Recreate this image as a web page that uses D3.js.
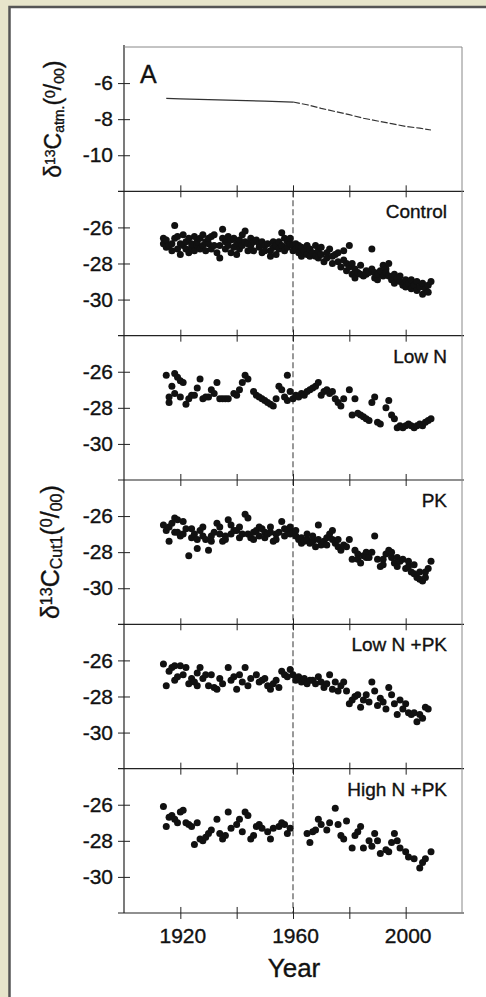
<!DOCTYPE html>
<html>
<head>
<meta charset="utf-8">
<script src="https://cdn.jsdelivr.net/npm/d3@7"></script>
<style>
  body { margin: 0; background: #e7e5cb; }
  svg { display: block; }
  text { font-family: "Liberation Sans", Arial, Helvetica, sans-serif; fill: #111; stroke: #111; stroke-width: 0.35px; }
</style>
</head>
<body>
<div id="vis"></div>
<script>
// atmospheric d13C (top panel)
var atmYears  = [1915, 1920, 1930, 1940, 1950, 1960, 1965, 1970, 1975, 1980, 1985, 1990, 1995, 2000, 2005, 2009];
var atmValues = [-6.85, -6.88, -6.92, -6.96, -7.0, -7.05, -7.2, -7.4, -7.58, -7.75, -7.95, -8.1, -8.25, -8.4, -8.5, -8.6];

var panelNames = ["Control", "Low N", "PK", "Low N +PK", "High N +PK"];
var xTicks = [1920, 1940, 1960, 1980, 2000];
var xLabels = [1920, 1960, 2000];
var atmTicks = [-6, -8, -10];
var cutTicks = [-26, -28, -30];

// [year, d13C] per treatment
var control = [[1914,-26.6],[1914,-26.9],[1915,-27.1],[1915,-26.7],[1916,-27.0],[1917,-26.9],[1917,-27.3],
  [1918,-25.9],[1918,-26.6],[1919,-27.2],[1919,-26.5],[1920,-27.5],[1920,-26.9],[1921,-27.0],[1921,-26.4],
  [1922,-26.8],[1922,-27.2],[1923,-26.6],[1923,-27.4],[1924,-27.1],[1924,-26.9],[1925,-26.5],[1925,-27.3],
  [1926,-27.0],[1926,-26.8],[1927,-26.6],[1927,-27.2],[1928,-27.0],[1928,-26.4],[1929,-27.3],[1929,-26.8],
  [1930,-26.9],[1930,-26.6],[1931,-27.2],[1931,-26.5],[1932,-26.4],[1932,-27.0],[1933,-27.4],[1934,-27.7],
  [1934,-27.0],[1935,-26.6],[1935,-26.1],[1936,-27.2],[1936,-26.8],[1937,-26.5],[1937,-27.0],[1938,-27.4],
  [1938,-26.7],[1939,-27.1],[1939,-26.6],[1940,-26.9],[1940,-27.5],[1941,-26.7],[1941,-27.2],[1942,-26.4],
  [1942,-27.0],[1943,-26.2],[1943,-26.8],[1944,-27.3],[1944,-26.9],[1945,-27.0],[1945,-26.6],[1946,-27.3],
  [1946,-26.8],[1947,-26.7],[1948,-27.1],[1948,-26.9],[1949,-27.4],[1949,-26.8],[1950,-27.0],[1950,-27.3],
  [1951,-26.9],[1952,-27.3],[1952,-27.6],[1953,-27.1],[1953,-26.8],[1954,-27.0],[1954,-27.5],[1955,-26.8],
  [1955,-27.2],[1956,-26.3],[1956,-27.0],[1957,-26.6],[1957,-27.3],[1958,-26.8],[1958,-27.1],[1959,-26.9],
  [1959,-26.6],[1960,-27.0],[1960,-27.3],[1961,-26.9],[1961,-27.2],[1962,-27.4],[1962,-27.0],[1963,-27.1],
  [1963,-27.6],[1964,-27.3],[1965,-27.5],[1965,-27.0],[1966,-27.2],[1966,-27.6],[1967,-27.4],[1968,-27.0],
  [1968,-27.6],[1969,-27.3],[1969,-27.7],[1970,-27.5],[1970,-27.1],[1971,-27.9],[1972,-27.4],[1972,-27.7],
  [1973,-27.2],[1974,-27.6],[1974,-28.0],[1975,-27.5],[1976,-27.9],[1976,-27.4],[1977,-28.2],[1978,-27.3],
  [1978,-27.8],[1979,-28.0],[1979,-28.4],[1980,-27.0],[1980,-28.2],[1981,-28.6],[1981,-28.0],[1982,-28.8],
  [1982,-28.3],[1983,-28.5],[1984,-28.1],[1984,-28.6],[1985,-28.7],[1986,-28.4],[1986,-28.6],[1987,-28.5],
  [1988,-27.2],[1988,-28.3],[1989,-28.8],[1989,-28.5],[1990,-28.9],[1990,-28.6],[1991,-28.4],[1992,-28.1],
  [1992,-28.7],[1993,-28.3],[1993,-28.5],[1994,-28.7],[1994,-28.0],[1995,-28.9],[1996,-28.6],[1996,-29.1],
  [1997,-28.8],[1998,-29.0],[1998,-28.7],[1999,-29.2],[2000,-28.9],[2000,-29.3],[2001,-29.1],[2002,-29.4],
  [2002,-28.9],[2003,-29.2],[2004,-29.5],[2004,-29.0],[2005,-29.3],[2006,-29.7],[2006,-29.1],[2007,-29.4],
  [2008,-29.2],[2008,-29.6],[2009,-29.0]];

var lowN = [[1915,-26.2],[1916,-27.7],[1916,-27.4],[1917,-26.8],[1918,-26.1],[1918,-27.2],[1919,-26.3],
  [1920,-26.5],[1920,-27.4],[1921,-26.6],[1922,-27.8],[1923,-27.5],[1924,-27.3],[1925,-27.3],[1926,-26.9],
  [1927,-26.4],[1928,-27.5],[1929,-27.4],[1930,-27.4],[1931,-27.0],[1932,-27.2],[1933,-26.6],[1934,-27.5],
  [1935,-27.5],[1936,-27.5],[1937,-27.5],[1939,-27.2],[1940,-27.3],[1941,-27.0],[1942,-26.6],[1943,-26.2],
  [1944,-26.4],[1946,-27.1],[1947,-27.3],[1948,-27.4],[1949,-27.5],[1950,-27.6],[1951,-27.7],[1952,-27.8],
  [1953,-27.9],[1954,-27.5],[1955,-26.8],[1956,-27.0],[1957,-27.4],[1958,-26.2],[1958,-27.6],[1959,-27.1],
  [1960,-27.5],[1961,-27.3],[1962,-27.4],[1963,-27.2],[1964,-27.3],[1965,-27.1],[1966,-27.0],[1967,-26.9],
  [1968,-26.8],[1969,-26.6],[1970,-27.3],[1971,-27.1],[1972,-27.0],[1973,-27.2],[1974,-27.1],[1975,-27.5],
  [1976,-27.7],[1977,-27.9],[1978,-27.5],[1980,-27.0],[1981,-28.4],[1982,-27.5],[1983,-28.3],[1984,-28.4],
  [1985,-28.5],[1986,-28.6],[1987,-28.7],[1988,-27.7],[1989,-27.4],[1990,-28.8],[1991,-28.9],[1993,-28.0],
  [1994,-27.6],[1995,-28.4],[1996,-28.6],[1997,-29.1],[1998,-29.0],[1999,-29.1],[2000,-29.0],[2001,-28.9],
  [2002,-29.0],[2003,-29.1],[2004,-29.0],[2005,-28.9],[2006,-29.0],[2007,-28.8],[2008,-28.7],[2009,-28.6]];

var pk = [[1914,-26.5],[1915,-26.8],[1916,-27.4],[1916,-26.6],[1917,-26.4],[1918,-26.1],[1918,-26.9],
  [1919,-26.2],[1919,-26.9],[1920,-27.1],[1921,-26.3],[1921,-27.0],[1922,-26.7],[1923,-28.2],[1924,-27.2],
  [1924,-26.7],[1925,-27.0],[1926,-27.8],[1926,-27.3],[1927,-26.8],[1928,-27.1],[1928,-26.6],[1929,-27.3],
  [1930,-27.9],[1931,-27.1],[1931,-27.4],[1932,-26.9],[1933,-26.4],[1934,-27.0],[1934,-26.6],[1935,-27.4],
  [1936,-27.1],[1936,-27.3],[1937,-26.2],[1938,-27.0],[1938,-26.5],[1939,-26.8],[1940,-26.8],[1941,-27.2],
  [1941,-26.6],[1942,-27.0],[1943,-25.9],[1944,-26.1],[1944,-27.0],[1945,-27.2],[1946,-26.9],[1946,-27.3],
  [1947,-26.8],[1948,-27.1],[1948,-26.6],[1949,-26.7],[1950,-26.9],[1950,-27.2],[1951,-27.0],[1952,-26.9],
  [1952,-26.6],[1953,-27.4],[1954,-27.0],[1954,-27.3],[1955,-26.9],[1956,-26.3],[1957,-27.1],[1957,-26.7],
  [1958,-26.8],[1959,-27.0],[1959,-26.6],[1960,-26.9],[1961,-27.1],[1961,-26.8],[1962,-27.3],[1963,-27.2],
  [1963,-27.5],[1964,-27.4],[1965,-27.3],[1965,-27.0],[1966,-27.5],[1967,-27.4],[1967,-27.1],[1968,-27.7],
  [1969,-26.5],[1969,-27.3],[1970,-27.6],[1971,-27.4],[1972,-27.2],[1972,-27.6],[1973,-27.0],[1974,-27.3],
  [1974,-26.8],[1975,-27.5],[1976,-27.7],[1976,-27.3],[1977,-27.9],[1978,-27.6],[1979,-27.7],[1980,-27.3],
  [1981,-28.4],[1982,-27.9],[1983,-28.1],[1983,-28.4],[1984,-28.6],[1985,-28.2],[1986,-28.0],[1986,-28.3],
  [1987,-28.3],[1988,-28.0],[1989,-27.1],[1990,-28.4],[1991,-28.8],[1992,-28.4],[1992,-28.7],[1993,-28.1],
  [1994,-27.9],[1995,-28.3],[1995,-28.0],[1996,-28.6],[1997,-28.8],[1997,-28.3],[1998,-28.5],[1999,-28.4],
  [2000,-28.9],[2001,-28.8],[2001,-28.5],[2002,-29.1],[2003,-29.2],[2003,-28.7],[2004,-29.4],[2005,-29.5],
  [2005,-29.1],[2006,-29.6],[2007,-29.1],[2007,-29.4],[2008,-28.9],[2009,-28.5]];

var lowNPK = [[1914,-26.2],[1915,-27.4],[1916,-26.6],[1917,-26.4],[1918,-26.3],[1918,-27.1],[1919,-26.9],
  [1920,-26.3],[1921,-26.8],[1922,-26.4],[1923,-27.3],[1924,-27.0],[1925,-27.2],[1926,-27.4],[1926,-26.7],
  [1927,-26.4],[1928,-27.0],[1929,-26.8],[1930,-27.4],[1931,-26.8],[1932,-27.5],[1933,-27.6],[1934,-27.0],
  [1935,-27.3],[1937,-26.4],[1938,-27.1],[1939,-26.9],[1940,-27.6],[1941,-26.8],[1942,-27.2],[1943,-26.4],
  [1944,-27.4],[1945,-27.0],[1947,-26.8],[1948,-27.2],[1949,-27.1],[1950,-27.0],[1951,-27.4],[1952,-27.6],
  [1953,-27.3],[1954,-27.1],[1955,-27.5],[1956,-26.6],[1957,-26.8],[1958,-26.9],[1959,-26.5],[1960,-26.8],
  [1961,-27.1],[1962,-26.9],[1963,-27.2],[1964,-27.0],[1965,-27.3],[1966,-27.1],[1967,-27.1],[1968,-27.3],
  [1969,-26.9],[1970,-27.2],[1971,-27.5],[1972,-27.3],[1973,-26.8],[1974,-27.6],[1975,-27.2],[1976,-27.7],
  [1977,-27.4],[1978,-27.2],[1979,-27.7],[1980,-28.4],[1981,-28.2],[1982,-28.0],[1983,-27.9],[1984,-28.6],
  [1985,-28.2],[1986,-27.9],[1987,-28.3],[1988,-27.2],[1989,-27.7],[1990,-28.5],[1991,-28.1],[1992,-28.3],
  [1993,-28.7],[1994,-27.5],[1995,-27.9],[1996,-28.4],[1997,-29.0],[1998,-28.2],[1999,-28.7],[2000,-28.4],
  [2001,-28.9],[2002,-29.0],[2003,-28.9],[2004,-29.4],[2005,-29.0],[2006,-29.2],[2007,-28.6],[2008,-28.7]];

var highNPK = [[1914,-26.1],[1915,-27.2],[1916,-26.7],[1917,-26.6],[1918,-26.8],[1919,-27.0],[1920,-26.4],
  [1921,-26.3],[1922,-27.0],[1923,-27.1],[1924,-27.2],[1925,-28.2],[1926,-27.0],[1927,-27.9],[1928,-28.0],
  [1929,-27.8],[1930,-27.6],[1931,-27.4],[1933,-26.8],[1934,-27.6],[1935,-27.9],[1936,-27.7],[1937,-26.4],
  [1938,-27.3],[1940,-27.1],[1941,-26.8],[1942,-27.5],[1943,-26.4],[1944,-26.6],[1945,-27.9],[1946,-27.7],
  [1947,-27.2],[1948,-27.1],[1949,-27.3],[1951,-27.5],[1952,-27.9],[1953,-27.3],[1955,-27.2],[1956,-27.0],
  [1957,-27.1],[1958,-27.6],[1959,-27.3],[1965,-27.6],[1966,-28.1],[1967,-27.5],[1968,-27.4],[1969,-26.8],
  [1970,-27.1],[1972,-27.4],[1973,-27.0],[1975,-26.2],[1976,-27.1],[1977,-27.7],[1978,-27.9],[1979,-26.9],
  [1981,-28.4],[1982,-27.7],[1983,-27.5],[1984,-27.2],[1985,-28.4],[1987,-28.0],[1988,-28.3],[1989,-27.6],
  [1990,-28.0],[1991,-28.7],[1993,-28.5],[1994,-28.6],[1995,-28.1],[1996,-27.6],[1997,-28.0],[1998,-28.4],
  [2000,-28.6],[2001,-28.9],[2003,-29.0],[2005,-29.5],[2006,-29.2],[2007,-29.0],[2009,-28.6]];

var series = [control, lowN, pk, lowNPK, highNPK];

var width = 486, height = 997;
var left = 124, right = 462, top0 = 47, panelH = 144.33;

var svg = d3.select('#vis').append('svg')
    .attr('width', width)
    .attr('height', height);

// frame
svg.append('rect')
    .attr('x', 9.5).attr('y', 7)
    .attr('width', 500).attr('height', 1010)
    .attr('fill', '#fff')
    .attr('stroke', '#555')
    .attr('stroke-width', 2.5);

var x = d3.scaleLinear().domain([1900, 2020]).range([left, right]);

function drawYAxis(g, scale, ticks) {
  var ax = d3.axisLeft(scale).tickValues(ticks).tickSize(6).tickPadding(5).tickFormat(d3.format('d'));
  g.call(ax);
  g.select('.domain').remove();
  g.selectAll('.tick line').attr('x1', 6).attr('stroke', '#222');
  g.selectAll('.tick text')
    .style('font-size', '21px')
    .style('font-family', '"Liberation Sans", Arial, sans-serif')
    .attr('fill', '#111')
    .text(function(d) { return d < 0 ? '-' + Math.abs(d) : d; });
}

function drawXAxis(g, yPos, labels) {
  var ax = d3.axisBottom(x).tickValues(xTicks).tickSize(6).tickFormat('');
  g.attr('transform', 'translate(0,' + yPos + ')').call(ax);
  g.select('.domain').remove();
  g.selectAll('.tick line').attr('y1', -6).attr('stroke', '#222');
  if (labels) {
    g.selectAll('.tick text')
      .text(function(d) { return xLabels.indexOf(d) >= 0 ? d : ''; })
      .attr('y', 30).attr('dy', 0).attr('dx', 2)
      .style('font-size', '21px')
      .style('font-family', '"Liberation Sans", Arial, sans-serif')
      .attr('fill', '#111');
  }
}

// ---- top panel: atmosphere
var yAtm = d3.scaleLinear().domain([-12, -4]).range([top0 + panelH, top0]);
var atmData = atmYears.map(function(d, i) { return [d, atmValues[i]]; });
var line = d3.line().x(function(d) { return x(d[0]); }).y(function(d) { return yAtm(d[1]); });

svg.append('path')
    .datum(atmData.filter(function(d) { return d[0] <= 1960; }))
    .attr('d', line)
    .attr('fill', 'none').attr('stroke', '#333').attr('stroke-width', 1.2);
svg.append('path')
    .datum(atmData.filter(function(d) { return d[0] >= 1960; }))
    .attr('d', line)
    .attr('fill', 'none').attr('stroke', '#333').attr('stroke-width', 1.2)
    .attr('stroke-dasharray', '7,2');

drawYAxis(svg.append('g').attr('transform', 'translate(' + left + ',0)'), yAtm, atmTicks);
drawXAxis(svg.append('g'), top0 + panelH, false);

svg.append('text')
    .attr('x', 140).attr('y', 83)
    .style('font-size', '25px')
    .text('A');

// ---- treatment panels
var bottom = top0 + panelH * 6;

svg.append('line')
    .attr('x1', x(1960)).attr('x2', x(1960))
    .attr('y1', top0 + panelH).attr('y2', bottom)
    .attr('stroke', '#555').attr('stroke-width', 1.2)
    .attr('stroke-dasharray', '6,3');

series.forEach(function(data, i) {
  var pTop = top0 + panelH * (i + 1);
  var y = d3.scaleLinear().domain([-32, -24]).range([pTop + panelH, pTop]);
  var g = svg.append('g');

  g.selectAll('circle')
    .data(data)
    .enter()
    .append('circle')
    .attr('cx', function(d) { return x(d[0]); })
    .attr('cy', function(d) { return y(d[1]); })
    .attr('r', 3.5)
    .attr('fill', '#111');

  drawYAxis(svg.append('g').attr('transform', 'translate(' + left + ',0)'), y, cutTicks);
  drawXAxis(svg.append('g'), pTop + panelH, i === series.length - 1);

  svg.append('text')
      .attr('x', 447).attr('y', pTop + 27)
      .attr('text-anchor', 'end')
      .style('font-size', '19px')
      .text(panelNames[i]);
});

// separators / box
for (var k = 1; k <= 6; k++) {
  svg.append('line')
      .attr('x1', left - 6).attr('x2', right + 2)
      .attr('y1', top0 + panelH * k).attr('y2', top0 + panelH * k)
      .attr('stroke', '#222').attr('stroke-width', 1.2);
}
svg.append('line')
    .attr('x1', left).attr('x2', left)
    .attr('y1', top0 - 2).attr('y2', bottom)
    .attr('stroke', '#222').attr('stroke-width', 1.2);
svg.append('line')
    .attr('x1', left).attr('x2', right)
    .attr('y1', top0).attr('y2', top0)
    .attr('stroke', '#888').attr('stroke-width', 1);
svg.append('line')
    .attr('x1', right).attr('x2', right)
    .attr('y1', top0).attr('y2', bottom)
    .attr('stroke', '#888').attr('stroke-width', 1);

// axis titles
var t1 = svg.append('text')
    .attr('transform', 'translate(61,' + (top0 + panelH / 2) + ') rotate(-90)')
    .attr('text-anchor', 'middle')
    .style('font-size', '23px');
t1.append('tspan').text('δ');
t1.append('tspan').attr('baseline-shift', '45%').style('font-size', '14px').text('13');
t1.append('tspan').text('C');
t1.append('tspan').attr('baseline-shift', '-20%').style('font-size', '14px').text('atm.');
t1.append('tspan').text('(');
t1.append('tspan').attr('baseline-shift', '45%').style('font-size', '14px').text('0');
t1.append('tspan').text('/');
t1.append('tspan').attr('baseline-shift', '-20%').style('font-size', '14px').text('00');
t1.append('tspan').text(')');

var t2 = svg.append('text')
    .attr('transform', 'translate(59,' + (top0 + panelH * 3.5) + ') rotate(-90)')
    .attr('text-anchor', 'middle')
    .style('font-size', '25px');
t2.append('tspan').text('δ');
t2.append('tspan').attr('baseline-shift', '45%').style('font-size', '16px').text('13');
t2.append('tspan').text('C');
t2.append('tspan').attr('baseline-shift', '-20%').style('font-size', '16px').text('Cut1');
t2.append('tspan').text('(');
t2.append('tspan').attr('baseline-shift', '45%').style('font-size', '16px').text('0');
t2.append('tspan').text('/');
t2.append('tspan').attr('baseline-shift', '-20%').style('font-size', '16px').text('00');
t2.append('tspan').text(')');

svg.append('text')
    .attr('x', x(1960) + 1).attr('y', 977)
    .attr('text-anchor', 'middle')
    .style('font-size', '26px')
    .text('Year');
</script>
</body>
</html>
